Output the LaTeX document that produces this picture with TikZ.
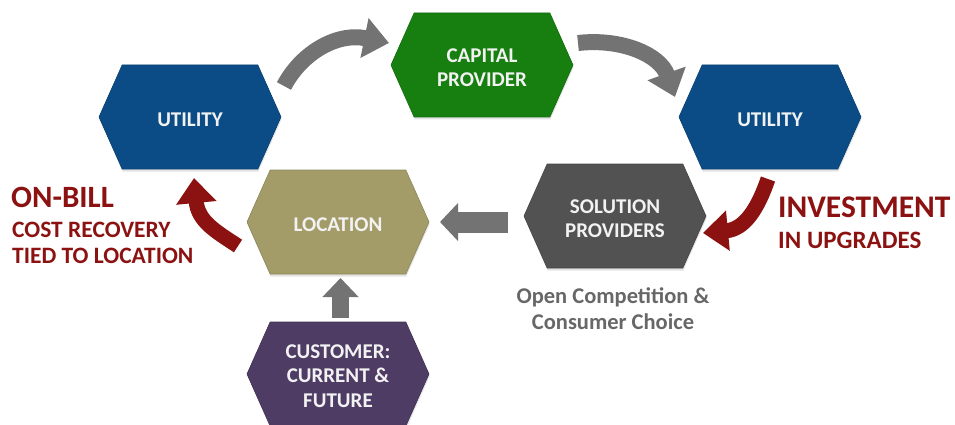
\documentclass[tikz,border=0pt]{standalone}
\usepackage{fontspec}
\setmainfont{Carlito}
\usetikzlibrary{shapes.symbols,arrows.meta,shadows}

\definecolor{utilblue}{HTML}{0B4C87}
\definecolor{capgreen}{HTML}{177F10}
\definecolor{lockhaki}{HTML}{A49C68}
\definecolor{solgray}{HTML}{525252}
\definecolor{custpurple}{HTML}{4E3C64}
\definecolor{flowgray}{HTML}{737373}
\definecolor{flowred}{HTML}{8C1212}
\definecolor{notegray}{HTML}{676767}

\tikzset{
  hexbox/.style={shape=signal, signal to=west and east, signal pointer angle=132,
    minimum width=182pt, minimum height=104pt, inner sep=0pt,
    fill=#1, draw=#1!85!black, line width=0.6pt,
    drop shadow={opacity=0.22, shadow xshift=0.5pt, shadow yshift=-2.5pt}},
  hextext/.style={text=white!95!black, align=center, inner sep=0pt,
    font=\fontsize{21}{24.5}\selectfont\bfseries, yshift=-2.5pt},
  bendarrow/.style={draw=#1, line width=16pt,
    -{Triangle[width=39pt,length=25pt]}},
  straightarrow/.style={draw=flowgray, line width=#1},
  redlabel/.style={text=flowred, anchor=base west, inner sep=0pt},
  notelabel/.style={text=notegray, font=\fontsize{22.5}{26}\selectfont\bfseries, align=center}
}

\begin{document}
\begin{tikzpicture}[x=1pt,y=-1pt]
  \useasboundingbox (0,0) rectangle (955,425);

  % the six stages
  \node[hexbox=utilblue,   label={[hextext]center:UTILITY}] (util1) at (190,117) {};
  \node[hexbox=capgreen,   label={[hextext]center:{CAPITAL\\PROVIDER}}] (cap) at (482,65) {};
  \node[hexbox=utilblue,   label={[hextext]center:UTILITY}] (util2) at (770,117) {};
  \node[hexbox=lockhaki,   label={[hextext]center:LOCATION}] (loc) at (338,222) {};
  \node[hexbox=solgray,    label={[hextext]center:{SOLUTION\\PROVIDERS}}] (sol) at (615,216) {};
  \node[hexbox=custpurple, label={[hextext, yshift=0.5pt]center:{CUSTOMER:\\CURRENT \&\\FUTURE}}] (cust) at (338,374) {};

  % ends of the flows between stages
  \coordinate (capIn)   at (284,86);
  \coordinate (capTip)  at (389,43);
  \coordinate (capOut)  at (578,43);
  \coordinate (utilTip) at (675,97);
  \coordinate (invOut)  at (768,179);
  \coordinate (invTip)  at (703,233);
  \coordinate (billOut) at (238,246);
  \coordinate (billTip) at (194,178);
  \coordinate (solOut)  at (508,222);
  \coordinate (locTip)  at (440,222);
  \coordinate (custOut) at (340.5,318);
  \coordinate (custTip) at (340.5,278);

  % curved flows
  \draw[bendarrow=flowgray] (capIn) .. controls (300,55) and (335,32) .. (capTip);
  \draw[bendarrow=flowgray] (capOut) .. controls (622,38) and (660,55) .. (utilTip);
  \draw[bendarrow=flowred, line width=15pt] (invOut) .. controls (758,208) and (745,229) .. (invTip);
  \draw[bendarrow=flowred, line width=15pt] (billOut) .. controls (215,231) and (198,221) .. (billTip);

  % straight flows
  \draw[straightarrow=21pt, -{Triangle[width=37pt,length=18pt]}] (solOut) -- (locTip);
  \draw[straightarrow=17pt, -{Triangle[width=35pt,length=19pt]}] (custOut) -- (custTip);

  % captions
  \node[redlabel, font=\fontsize{31}{31}\selectfont\bfseries] (onbill) at (11,207) {ON-BILL};
  \node[redlabel, font=\fontsize{23.5}{23.5}\selectfont\bfseries] (costrec) at (12,237) {COST RECOVERY};
  \node[redlabel, font=\fontsize{23.5}{23.5}\selectfont\bfseries] (tied) at (12,263) {TIED TO LOCATION};
  \node[redlabel, font=\fontsize{31.5}{31.5}\selectfont\bfseries] (invest) at (778,217) {INVESTMENT};
  \node[redlabel, font=\fontsize{25}{25}\selectfont\bfseries] (upgr) at (778,248) {IN UPGRADES};
  \node[notelabel] (choice) at (613,309) {Open Competition \&\\Consumer Choice};
\end{tikzpicture}
\end{document}
